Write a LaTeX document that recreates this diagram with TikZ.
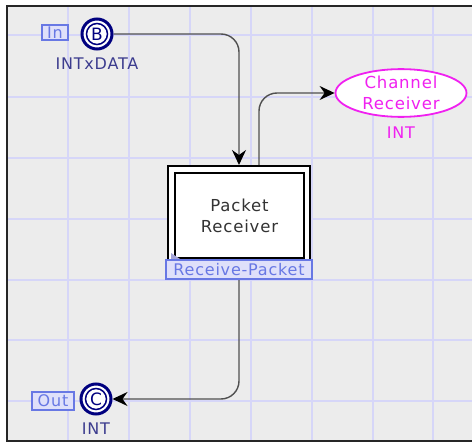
\documentclass[tikz,border=0pt]{standalone}
\usepackage{fontspec}
\setmainfont{DejaVu Sans}[LetterSpace=5]
\newfontfamily\plainsans{DejaVu Sans}
\usetikzlibrary{arrows.meta,shapes.geometric}
\definecolor{bgray}{HTML}{ECECEC}
\definecolor{gridc}{HTML}{D6D6F8}
\definecolor{placeblue}{HTML}{00007F}
\definecolor{labblue}{HTML}{3C3C8E}
\definecolor{tagblue}{HTML}{6878E4}
\definecolor{tagfill}{HTML}{DFE0FA}
\definecolor{magen}{HTML}{F020F0}
\definecolor{arcgray}{HTML}{505050}
\definecolor{markc}{HTML}{A4A4D8}
\pgfdeclarelayer{back}
\pgfdeclarelayer{arcs}
\pgfsetlayers{back,arcs,main}
\begin{document}
\begin{tikzpicture}[x=1pt,y=-1pt,
  place/.style={circle, draw=placeblue, line width=3pt, fill=white, minimum size=30pt, inner sep=0pt,
    text=placeblue, font=\plainsans\fontsize{17}{17}\selectfont},
  tag/.style={draw=tagblue, fill=tagfill, line width=1.4pt, text=tagblue, inner sep=0pt,
    font=\fontsize{16}{16}\selectfont},
  typelab/.style={text=labblue, font=\fontsize{16}{16}\selectfont, inner sep=0pt},
  arc/.style={draw=arcgray, line width=1.4pt, rounded corners=18pt,
    -{Stealth[length=15pt,width=14pt,inset=5pt,black]}},
  tbox/.style={rectangle, draw=black, line width=2pt, fill=white, inner sep=0pt}
]
\useasboundingbox (0,0) rectangle (472,444);
\begin{pgfonlayer}{back}
  \fill[white] (0,0) rectangle (472,444);
  \begin{scope}
    \clip (0,0) rectangle (472,444);
    \fill[bgray] (7,6) rectangle (480,441);
    \foreach \gx in {68,129,190,251,312,373,433}
      \draw[gridc, line width=1.3pt] (\gx,7) -- (\gx,440);
    \foreach \gy in {35,97,158,219,280,340,401}
      \draw[gridc, line width=1.3pt] (8,\gy) -- (472,\gy);
    \draw[black!85, line width=2pt] (7,6) rectangle (480,441);
  \end{scope}
\end{pgfonlayer}

% places
\node[place] (B) at (97,34) {B};
\draw[placeblue, line width=1.5pt] (B.center) circle (10.5pt);
\node[tag, minimum width=26pt, minimum height=15pt] (inTag) at (55,32.5) {In};
\node[typelab] (Btype) at (97,64) {INTxDATA};

\node[place] (C) at (96,399) {C};
\draw[placeblue, line width=1.5pt] (C.center) circle (10.5pt);
\node[tag, minimum width=42pt, minimum height=18pt] (outTag) at (53,401) {Out};
\node[typelab] (Ctype) at (96,429) {INT};

% channel receiver
\node[ellipse, draw=magen, line width=1.8pt, fill=white, minimum width=131pt, minimum height=41pt,
  inner sep=0pt, align=center, text=magen, font=\fontsize{16.5}{21}\selectfont] (CR) at (401,93)
  {Channel\\Receiver};
\node[text=magen, font=\fontsize{16}{16}\selectfont, inner sep=0pt] (CRtype) at (401,133) {INT};

% transition
\node[tbox, minimum width=142pt, minimum height=95pt] (T) at (239,213.5) {};
\node[tbox, minimum width=129pt, minimum height=85pt, align=center, text=black!80,
  font=\fontsize{16.5}{21}\selectfont] (Tin) at (239.5,215.5) {Packet\\Receiver};
\fill[markc] (171,253) -- (171,261) -- (183,261) -- cycle;
\node[tag, minimum width=146pt, minimum height=19pt, font=\fontsize{16}{16}\selectfont] (TL) at (239,269.5)
  {Receive-Packet};

% arcs
\begin{pgfonlayer}{arcs}
  \draw[arc] (B.east) -| (T.north);
  \coordinate (Tout) at ([xshift=20pt]T.north);
  \draw[arc] (Tout) |- (CR.west);
  \draw[arc] (T.south) |- (C.east);
\end{pgfonlayer}
\end{tikzpicture}
\end{document}
